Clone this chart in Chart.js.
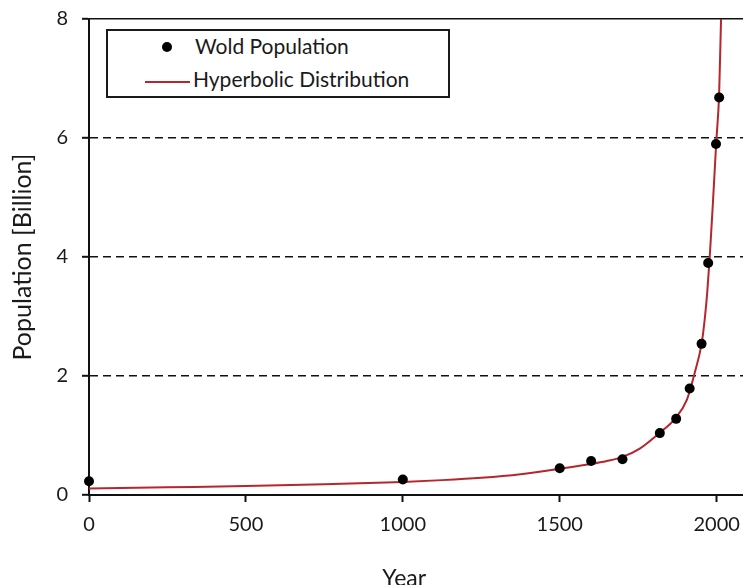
<!DOCTYPE html>
<html>
<head>
<meta charset="utf-8">
<script src="https://cdn.jsdelivr.net/npm/chart.js@4.4.0/dist/chart.umd.min.js"></script>
<style>
	body { margin: 0; background: #fff; }
	#wrap { position: relative; width: 743px; height: 585px; overflow: hidden; }
	#legend {
		position: absolute; left: 106px; top: 29px; width: 344px; height: 69px;
		box-sizing: border-box; border: 2px solid #1a1a1a; background: #fff;
		font: 21px Lato, sans-serif; color: #1a1a1a;
	}
	#legend span { position: absolute; line-height: 24px; white-space: nowrap; }
	#legend .dot { width: 10px; height: 10px; border-radius: 50%; background: #000; }
	#legend .red { height: 2px; background: #b5262d; }
</style>
</head>
<body>
<div id="wrap">
	<canvas id="grafico" width="743" height="585"></canvas>
	<div id="legend">
		<span class="dot" style="left:54px; top:11px;"></span>
		<span style="left:87px; top:3px;">Wold Population</span>
		<span class="red" style="left:37px; top:50px; width:45px;"></span>
		<span style="left:85px; top:36px;">Hyperbolic Distribution</span>
	</div>
</div>
<script>
// world population (dots)
var anni_pop = [0, 1000, 1500, 1600, 1700, 1819, 1871, 1914, 1952, 1973, 1998, 2008];
var valori_pop = [0.23, 0.26, 0.45, 0.57, 0.60, 1.04, 1.28, 1.79, 2.54, 3.90, 5.90, 6.68];

// hyperbolic curve (red line)
var anni_iper = [0, 250, 500, 750, 1000, 1125, 1250, 1375, 1500, 1600, 1650, 1700, 1755, 1817, 1867, 1905, 1930, 1952, 1962, 1970, 1978, 1988, 1999, 2008, 2014];
var valori_iper = [0.11, 0.13, 0.15, 0.18, 0.22, 0.25, 0.29, 0.35, 0.44, 0.52, 0.57, 0.64, 0.78, 1.04, 1.28, 1.60, 2.05, 2.54, 2.95, 3.40, 4.00, 4.90, 5.95, 6.75, 8.00];

var tick_x = [0, 500, 1000, 1500, 2000];
var tick_y = [0, 2, 4, 6, 8];

var font_assi = { family: 'Lato', size: 20 };
var nero = '#111';
var testo = '#1a1a1a';

function punti(xs, ys) {
	return xs.map(function (x, i) { return { x: x, y: ys[i] }; });
}

var config_grafico = {
	type: 'scatter',
	data: {
		datasets: [{
			label: 'Wold Population',
			data: punti(anni_pop, valori_pop),
			pointRadius: 5,
			pointBackgroundColor: '#000',
			pointBorderWidth: 0,
			showLine: false,
			clip: 8
		}, {
			label: 'Hyperbolic Distribution',
			data: punti(anni_iper, valori_iper),
			showLine: true,
			borderColor: '#b5262d',
			borderWidth: 2,
			pointRadius: 0,
			cubicInterpolationMode: 'monotone'
		}]
	},
	options: {
		responsive: false,
		animation: false,
		devicePixelRatio: 1,
		layout: { autoPadding: false, padding: { top: 19, right: 0, left: 0, bottom: 0 } },
		plugins: { legend: { display: false }, tooltip: { enabled: false } },
		scales: {
			x: {
				type: 'linear', min: 0, max: 2084,
				afterBuildTicks: function (s) { s.ticks = tick_x.map(function (v) { return { value: v }; }); },
				afterFit: function (s) { s.height = 90; s.paddingLeft = 0; s.paddingRight = 0; },
				ticks: { font: font_assi, color: testo, padding: 11, maxRotation: 0, callback: function (v) { return String(v); } },
				grid: { drawOnChartArea: false, tickLength: 7, tickColor: nero, tickWidth: 2 },
				border: { display: true, color: nero, width: 2 },
				title: { display: true, text: 'Year    ', font: { family: 'Lato', size: 23 }, color: testo, padding: { top: 0, bottom: -7 } }
			},
			y: {
				min: 0, max: 8,
				afterBuildTicks: function (s) { s.ticks = tick_y.map(function (v) { return { value: v }; }); },
				afterFit: function (s) { s.width = 89; s.paddingTop = 0; s.paddingBottom = 0; },
				ticks: { font: font_assi, color: testo, padding: 14 },
				grid: {
					color: function (c) { return (c.tick && c.tick.value === 0) ? 'rgba(0,0,0,0)' : nero; },
					lineWidth: 1.6, tickLength: 7, tickColor: nero, tickWidth: 2, tickBorderDash: []
				},
				border: {
					display: true, color: nero, width: 2,
					dash: function (c) { return (c.tick && c.tick.value === 8) ? [] : [8, 5]; }
				},
				title: { display: true, text: 'Population [Billion]', font: { family: 'Lato', size: 25 }, color: testo, padding: { top: 8, bottom: 0 } }
			}
		}
	}
};

var grafico = new Chart(document.getElementById('grafico').getContext('2d'), config_grafico);
</script>
</body>
</html>
